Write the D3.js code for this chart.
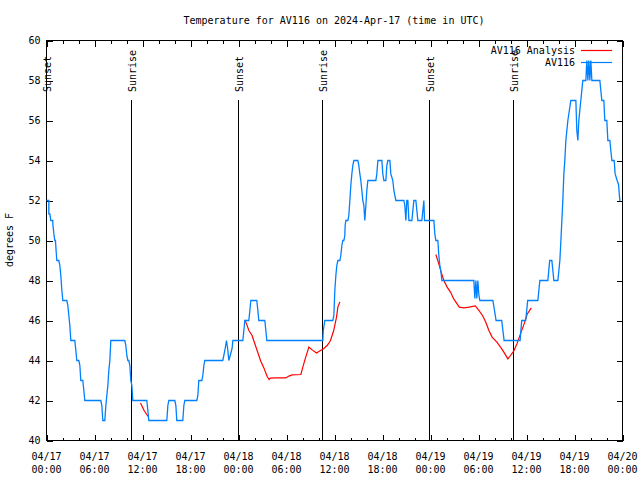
<!DOCTYPE html>
<html><head><meta charset="utf-8">
<script src="https://cdn.jsdelivr.net/npm/d3@7"></script>
<style>
body{margin:0;background:#fff}
svg text{font-family:"DejaVu Sans Mono",monospace;font-size:10px;fill:#000}
</style>
</head><body>
<svg id="chart" width="640" height="480"></svg>
<script>
// ---------- data ----------
const titleText = "Temperature for AV116 on 2024-Apr-17 (time in UTC)";
const yAxisLabel = "degrees F";
const seriesNames = ["AV116 Analysis", "AV116"];
const seriesColors = ["#ff0000", "#0080ff"];
const startTime = "2024-04-17T00:00:00Z";
const endTime = "2024-04-20T00:00:00Z";
const yTickValues = [40, 42, 44, 46, 48, 50, 52, 54, 56, 58, 60];

// sun events, hours after 2024-04-17 00:00 UTC
const eventHours = [0.0, 10.66, 24.04, 34.54, 47.91, 58.41];
const eventLabels = ["Sunset", "Sunrise", "Sunset", "Sunrise", "Sunset", "Sunrise"];

// observations (hours after start, deg F)
const obsHours = [0.0,0.29,0.29,0.42,0.54,0.79,0.79,0.92,1.04,1.12,1.2,1.29,1.54,1.67,1.79,1.92,2.04,2.54,2.67,2.79,2.92,3.04,3.54,3.67,3.79,4.04,4.17,4.29,4.54,4.67,4.79,6.79,6.92,7.04,7.29,7.42,7.54,7.67,7.79,7.92,8.04,9.79,9.92,10.04,10.17,10.29,10.42,10.54,10.67,10.79,12.54,12.67,12.79,15.04,15.17,15.29,16.04,16.17,16.29,17.04,17.17,17.29,18.79,18.92,19.04,19.42,19.54,19.67,19.79,22.04,22.29,22.5,22.67,22.79,23.0,23.2,23.3,24.54,24.67,24.79,25.29,25.42,25.54,26.29,26.42,26.54,27.29,27.42,27.54,34.54,34.6,34.79,35.79,35.92,36.04,36.17,36.29,36.42,36.67,36.79,36.92,37.04,37.17,37.29,37.33,37.42,37.67,37.79,37.92,38.04,38.17,38.29,38.42,38.92,39.04,39.17,39.29,39.42,39.54,39.67,39.79,39.92,40.04,40.17,41.17,41.29,41.42,41.92,42.04,42.17,42.42,42.54,42.67,42.92,43.04,43.29,43.42,43.67,44.67,44.79,44.92,45.04,45.17,45.3,45.67,45.92,46.17,46.42,46.92,47.17,47.25,48.42,48.54,48.67,48.92,49.04,49.17,49.29,49.42,53.42,53.54,53.67,53.79,53.92,54.04,54.17,55.8,56.2,56.9,57.2,59.2,59.4,59.9,60.15,61.42,61.67,62.67,62.9,63.17,63.42,63.92,64.17,64.3,64.42,64.54,64.67,64.79,64.92,65.17,65.54,66.17,66.29,66.42,66.54,66.79,67.04,67.42,67.54,67.67,67.79,67.92,68.04,68.17,69.17,69.29,69.42,69.67,69.79,70.04,70.17,70.42,70.54,70.67,70.96,71.08,71.33,71.5,71.67,71.75];
const obsTemps = [52,52,51.33,51.33,51,51,50.83,50.33,50,50,49.5,49,49,48.75,48.25,47.5,47,47,46.75,46.25,45.75,45,45,44.5,44,44,43.75,43,43,42.5,42,42,41.75,41,41,41.75,42.25,42.75,43.5,44,45,45,44.75,44.25,44,44,43.75,43,42.75,42,42,41.5,41,41,41.75,42,42,41.75,41,41,41.75,42,42,42.25,43,43,43.25,43.75,44,44,44.5,45,44.5,44,44.3,44.6,45,45,45.5,46,46,46.5,47,47,46.5,46,46,45.5,45,45,45.5,46,46,46.25,47.5,48.25,48.75,49,49,49.25,49.75,50,50,50.25,50.75,51,51,51.25,52,52.75,53.33,53.75,54,54,53.75,53.33,53,52.5,52,51.75,51,51.75,52.5,53,53,53.33,54,54,53.33,53,53,53.75,54,54,53.33,53,52.5,52,52,51.75,51,52,52,51,51,52,52,51,51,52,51,51,50.33,50,50,49.25,48.75,48.5,48,48,47.1,48,47.1,48,47.3,47,47,46,46,45,45,46,46,47,47,48,48,49,49,48,48,49,50,51,52,53.33,54,55,56,57,57,55.5,55,56,57,58,58,59,58,59,58,59,58,58,57.5,57,57,56,56,55,55,54.5,54,54,53.33,53,52.8,52,52];

// analysis (three runs, null = gap)
const anaHours = [11.75,12.2,12.7,null,24.8,25.0,25.3,25.7,25.9,26.33,26.75,27.17,27.58,27.83,28.0,28.6,29.9,30.3,30.7,31.8,32.04,32.4,32.8,33.2,33.75,34.25,34.67,35.08,35.5,35.9,36.25,36.42,36.67,null,48.67,49.04,49.33,49.67,50.08,50.5,50.9,51.33,51.6,52.17,52.8,53.6,54.0,54.5,54.9,55.3,55.7,56.3,56.75,57.17,57.67,58.0,58.4,58.8,59.25,59.7,60.1,60.6];
const anaTemps = [41.87,41.5,41.2,null,46.03,45.83,45.5,45.25,45.0,44.5,44.0,43.63,43.2,43.05,43.12,43.13,43.13,43.22,43.28,43.3,43.67,44.17,44.67,44.53,44.37,44.5,44.6,44.75,45.0,45.5,46.17,46.67,46.93,null,49.3,48.83,48.42,48.0,47.67,47.42,47.08,46.83,46.67,46.63,46.67,46.73,46.53,46.25,45.92,45.5,45.17,44.92,44.67,44.42,44.08,44.25,44.47,44.83,45.33,45.83,46.33,46.63];

// ---------- chart ----------
const L = 46.5, R = 622.5, T = 40.5, B = 440.5;
const t0 = new Date(startTime), t1 = new Date(endTime);
const hourDate = h => new Date(t0.getTime() + h * 3600e3);
const x = d3.scaleUtc().domain([t0, t1]).range([L, R]);
const y = d3.scaleLinear().domain([40, 60]).range([B, T]);
const svg = d3.select("#chart");

const majorTicks = d3.utcHour.every(6).range(t0, new Date(t1.getTime() + 1));
const minorTicks = d3.utcHour.every(2).range(t0, new Date(t1.getTime() + 1));

function tickGroup(axis, tr) {
  const g = svg.append("g").attr("transform", tr).call(axis);
  g.select(".domain").remove();
  g.selectAll("line").attr("stroke", "#000").attr("shape-rendering", "crispEdges");
  return g;
}
tickGroup(d3.axisBottom(x).tickValues(minorTicks).tickSize(-3).tickFormat(""), `translate(0,${B})`);
tickGroup(d3.axisBottom(x).tickValues(majorTicks).tickSize(-6).tickFormat(""), `translate(0,${B})`);
tickGroup(d3.axisTop(x).tickValues(minorTicks).tickSize(-3).tickFormat(""), `translate(0,${T})`);
tickGroup(d3.axisTop(x).tickValues(majorTicks).tickSize(-6).tickFormat(""), `translate(0,${T})`);
const gl = tickGroup(d3.axisLeft(y).tickValues(yTickValues).tickSize(-6).tickPadding(6).tickFormat(d3.format("d")), `translate(${L},0)`);
gl.selectAll("text").attr("font-family", null).attr("font-size", null);
gl.attr("font-family", null).attr("font-size", null);
tickGroup(d3.axisRight(y).tickValues(yTickValues).tickSize(-6).tickFormat(""), `translate(${R},0)`);

// x tick labels (two lines)
const fmtDay = d3.utcFormat("%m/%d"), fmtTime = d3.utcFormat("%H:%M");
const xl = svg.append("g").selectAll("text").data(majorTicks).join("text")
  .attr("text-anchor", "middle");
xl.append("tspan").attr("x", d => x(d)).attr("y", 460).text(fmtDay);
xl.append("tspan").attr("x", d => x(d)).attr("y", 473).text(fmtTime);

// frame
svg.append("rect").attr("x", L).attr("y", T).attr("width", R - L).attr("height", B - T)
  .attr("fill", "none").attr("stroke", "#000").attr("shape-rendering", "crispEdges");

// sun events
const ev = svg.append("g");
eventHours.forEach((h, i) => {
  const xx = Math.round(x(hourDate(h)) - 0.5) + 0.5;
  ev.append("line").attr("x1", xx).attr("x2", xx).attr("y1", 100).attr("y2", B)
    .attr("stroke", "#000").attr("shape-rendering", "crispEdges");
  ev.append("text").attr("transform", `translate(${xx + 1},92) rotate(-90)`)
    .attr("dominant-baseline", "central").attr("text-anchor", "start").text(eventLabels[i]);
});

// title & y label
svg.append("text").attr("x", 334).attr("y", 24).attr("text-anchor", "middle").text(titleText);
svg.append("text").attr("transform", "translate(13,240) rotate(-90)").attr("text-anchor", "middle").text(yAxisLabel);

// lines
const line = d3.line()
  .defined((d) => d[0] !== null && d[1] !== null)
  .x(d => x(hourDate(d[0]))).y(d => y(d[1]));
const anaData = anaHours.map((h, i) => [h, anaTemps[i]]);
const obsData = obsHours.map((h, i) => [h, obsTemps[i]]);

// legend
const legY = [50.5, 62.5];
seriesNames.forEach((n, i) => {
  svg.append("text").attr("x", 575).attr("y", legY[i]).attr("dominant-baseline", "central")
    .attr("text-anchor", "end").text(n);
  svg.append("line").attr("x1", 581).attr("x2", 612).attr("y1", legY[i]).attr("y2", legY[i])
    .attr("stroke", seriesColors[i]).attr("stroke-width", 1.2);
});

svg.append("path").datum(anaData).attr("d", line).attr("fill", "none")
  .attr("stroke", seriesColors[0]).attr("stroke-width", 1.2);
svg.append("path").datum(obsData).attr("d", line).attr("fill", "none")
  .attr("stroke", seriesColors[1]).attr("stroke-width", 1.3);
</script>
</body></html>
